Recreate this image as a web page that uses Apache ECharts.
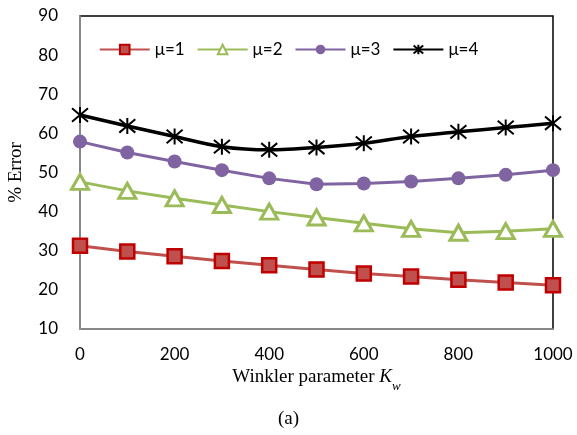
<!DOCTYPE html>
<html><head><meta charset="utf-8">
<script src="https://cdn.jsdelivr.net/npm/echarts@6/dist/echarts.min.js"></script>
<style>html,body{margin:0;padding:0;background:#fff}#c{width:577px;height:435px}</style>
</head><body><div id="c"></div>
<script>
const kw = [0,100,200,300,400,500,600,700,800,900,1000];
const mu1 = [31.3,29.8,28.6,27.4,26.3,25.2,24.2,23.4,22.6,21.9,21.2];
const mu2 = [47.6,45.3,43.4,41.7,40.0,38.5,37.0,35.6,34.6,35.0,35.6];
const mu3 = [57.9,55.1,52.8,50.6,48.5,47.0,47.2,47.7,48.5,49.4,50.6];
const mu4 = [64.7,61.9,59.2,56.6,55.8,56.4,57.5,59.2,60.4,61.5,62.6];
const names = ['μ=1','μ=2','μ=3','μ=4'];
const xTicks = [0,200,400,600,800,1000];
const yTicks = [10,20,30,40,50,60,70,80,90];

const pair = a => kw.map((x,i)=>[x,a[i]]);
const star = 'path://M0,0L10,10M10,0L0,10M5,-1L5,11';
const chart = echarts.init(document.getElementById('c'));
chart.setOption({
  animation:false,
  grid:{left:80,right:24,top:16,bottom:106,show:true,borderColor:'#000',borderWidth:1.5,
        containLabel:false,outerBoundsMode:'none'},
  legend:{
    top:36,left:'center',itemWidth:50,itemHeight:12,itemGap:12,
    textStyle:{fontFamily:'Lato',fontSize:17,color:'#000'},
    data:names
  },
  xAxis:{
    type:'value',min:xTicks[0],max:xTicks[xTicks.length-1],interval:200,
    axisLine:{show:true,lineStyle:{color:'#a0a0a0',width:1.5}},
    axisTick:{show:false},splitLine:{show:false},
    axisLabel:{fontFamily:'Lato',fontSize:17,color:'#000',margin:17,formatter:v=>String(v)},
    name:'{n|Winkler parameter }{k|K}{s|w}',nameLocation:'middle',nameGap:38,
    nameTextStyle:{rich:{
      n:{fontFamily:'Liberation Serif',fontSize:19,color:'#000',verticalAlign:'top',lineHeight:22},
      k:{fontFamily:'Liberation Serif',fontSize:19,fontStyle:'italic',color:'#000',verticalAlign:'top',lineHeight:22},
      s:{fontFamily:'Liberation Serif',fontSize:13,fontStyle:'italic',color:'#000',verticalAlign:'top',lineHeight:22,padding:[12,0,0,0]}
    }}
  },
  yAxis:{
    type:'value',min:yTicks[0],max:yTicks[yTicks.length-1],interval:10,
    axisLine:{show:true,lineStyle:{color:'#a0a0a0',width:1.5}},
    axisTick:{show:false},splitLine:{show:false},
    axisLabel:{fontFamily:'Lato',fontSize:17,color:'#000',margin:22},
    name:'% Error',nameLocation:'middle',nameGap:54,nameRotate:90,
    nameTextStyle:{fontFamily:'Liberation Serif',fontSize:19,color:'#000'}
  },
  title:{text:'(a)',left:'center',top:405,textStyle:{fontFamily:'Liberation Serif',fontSize:19,fontWeight:'normal',color:'#000'}},
  series:[
    {name:names[0],type:'line',data:pair(mu1),symbol:'rect',symbolSize:14,
     lineStyle:{color:'#c0504d',width:3},
     itemStyle:{color:'#c0504d',borderColor:'#c00000',borderWidth:2.5}},
    {name:names[1],type:'line',data:pair(mu2),symbol:'triangle',symbolSize:[17,15],
     lineStyle:{color:'#9bbb59',width:3},
     itemStyle:{color:'#fff',borderColor:'#9bbb59',borderWidth:3}},
    {name:names[2],type:'line',data:pair(mu3),symbol:'circle',symbolSize:14,
     lineStyle:{color:'#8064a2',width:3},
     itemStyle:{color:'#8064a2',borderColor:'#8064a2',borderWidth:0}},
    {name:names[3],type:'line',data:pair(mu4),symbol:star,symbolSize:16,smooth:0.3,
     lineStyle:{color:'#000',width:3.5},
     itemStyle:{color:'rgba(0,0,0,0)',borderColor:'#000',borderWidth:2}}
  ]
});
</script></body></html>
